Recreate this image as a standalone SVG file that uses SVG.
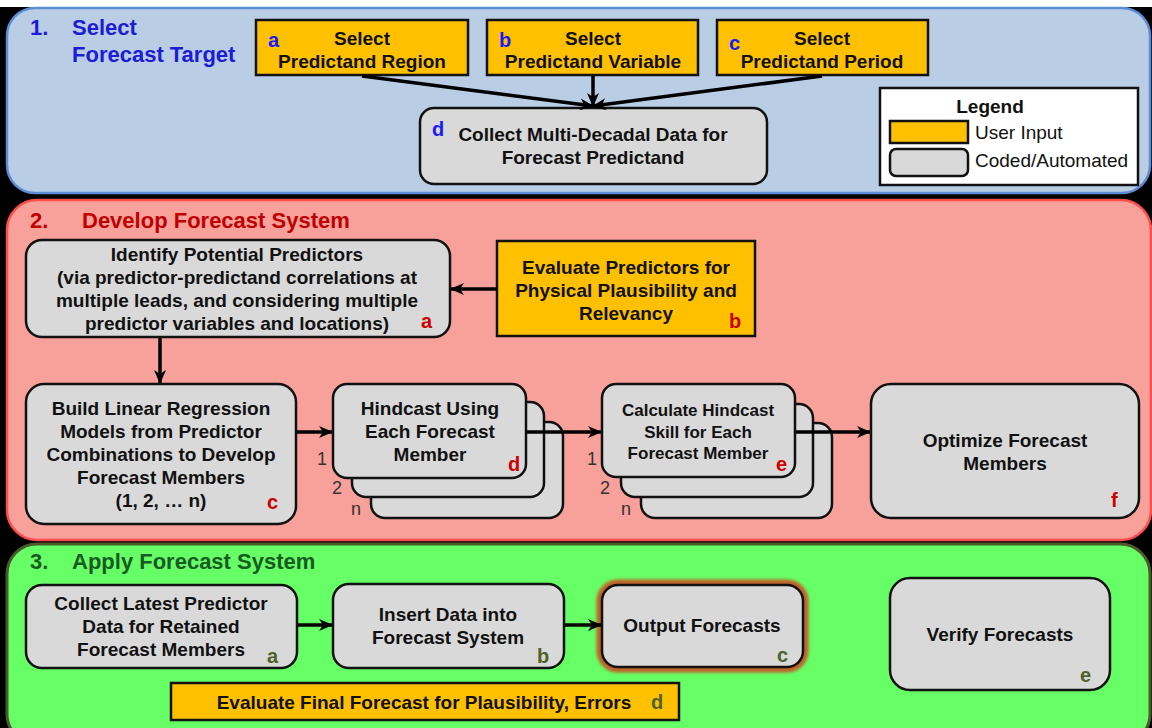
<svg xmlns="http://www.w3.org/2000/svg" width="1152" height="728" viewBox="0 0 1152 728">
<defs>
<style>
text{font-family:"Liberation Sans",Arial,sans-serif;}
.t{font-size:19px;font-weight:bold;fill:#111;text-anchor:middle;}
.ts{font-size:17px;font-weight:bold;fill:#111;text-anchor:middle;}
.lg{font-size:19px;fill:#111;}
.h1{font-size:22px;font-weight:bold;fill:#1c1cd4;}
.h2{font-size:22px;font-weight:bold;fill:#c00000;}
.h3{font-size:22px;font-weight:bold;fill:#175a23;}
.lb{font-size:20px;font-weight:bold;fill:#1a1aff;}
.lr{font-size:20px;font-weight:bold;fill:#cc0000;}
.lo{font-size:20px;font-weight:bold;fill:#4f6228;}
.num{font-size:18px;fill:#333;}
.grey{fill:#d9d9d9;stroke:#111;stroke-width:2.5;}
.user{fill:#ffc000;stroke:#111;stroke-width:2.5;}
.conn line{stroke:#000;stroke-width:3.5;marker-end:url(#ah);}
</style>
<marker id="ah" markerUnits="userSpaceOnUse" markerWidth="14" markerHeight="12" refX="13" refY="6" orient="auto">
<path d="M0,0 L14,6 L0,12 L4,6 Z" fill="#000"/>
</marker>
<filter id="glow" x="-20%" y="-20%" width="140%" height="140%">
<feGaussianBlur stdDeviation="1.8"/>
</filter>
</defs>
<rect x="0" y="0" width="1152" height="728" fill="#fff"/>
<rect x="0" y="7" width="1152" height="721" fill="#000"/>

<g id="panel1">
<rect x="7" y="8" width="1143" height="185" rx="28" fill="#b9cde5" stroke="#5b8ed6" stroke-width="2.5"/>
<text class="h1" x="30" y="35">1.</text>
<text class="h1" x="72" y="35">Select</text>
<text class="h1" x="72" y="62">Forecast Target</text>
</g>
<g id="panel2">
<rect x="7" y="200" width="1144" height="340" rx="30" fill="#f8a19b" stroke="#ff4d4d" stroke-width="2.5"/>
<text class="h2" x="30" y="228">2.</text>
<text class="h2" x="82" y="228">Develop Forecast System</text>
</g>
<g id="panel3">
<rect x="7" y="544" width="1143" height="200" rx="30" fill="#66ff66" stroke="#4a5a2a" stroke-width="3"/>
<text class="h3" x="30" y="569">3.</text>
<text class="h3" x="72" y="569">Apply Forecast System</text>
</g>

<g id="n1a">
<rect class="user" x="256" y="20" width="212" height="55"/>
<text class="t" x="362" y="45">Select</text>
<text class="t" x="362" y="68">Predictand Region</text>
<text class="lb" x="268" y="47">a</text>
</g>
<g id="n1b">
<rect class="user" x="487" y="20" width="211" height="55"/>
<text class="t" x="593" y="45">Select</text>
<text class="t" x="593" y="68">Predictand Variable</text>
<text class="lb" x="499" y="47">b</text>
</g>
<g id="n1c">
<rect class="user" x="717" y="20" width="211" height="55"/>
<text class="t" x="822" y="45">Select</text>
<text class="t" x="822" y="68">Predictand Period</text>
<text class="lb" x="729" y="50">c</text>
</g>
<g id="n1d">
<rect class="grey" x="420" y="108" width="347" height="76" rx="14"/>
<text class="t" x="593" y="141">Collect Multi-Decadal Data for</text>
<text class="t" x="593" y="164">Forecast Predictand</text>
<text class="lb" x="432" y="136">d</text>
</g>
<g id="legend">
<rect x="880" y="88" width="258" height="97" fill="#fff" stroke="#111" stroke-width="2.5"/>
<text class="t" x="990" y="113">Legend</text>
<rect class="user" x="890" y="121" width="78" height="22"/>
<text class="lg" x="975" y="139">User Input</text>
<rect class="grey" x="890" y="149" width="78" height="27" rx="6"/>
<text class="lg" x="975" y="167">Coded/Automated</text>
</g>

<g id="n2a">
<rect class="grey" x="26" y="240" width="424" height="97" rx="16"/>
<text class="t" x="237" y="261">Identify Potential Predictors</text>
<text class="t" x="237" y="284">(via predictor-predictand correlations at</text>
<text class="t" x="237" y="307">multiple leads, and considering multiple</text>
<text class="t" x="237" y="330">predictor variables and locations)</text>
<text class="lr" x="421" y="328">a</text>
</g>
<g id="n2b">
<rect class="user" x="497" y="241" width="258" height="95"/>
<text class="t" x="626" y="274">Evaluate Predictors for</text>
<text class="t" x="626" y="297">Physical Plausibility and</text>
<text class="t" x="626" y="320">Relevancy</text>
<text class="lr" x="729" y="328">b</text>
</g>
<g id="n2c">
<rect class="grey" x="26" y="384" width="270" height="140" rx="18"/>
<text class="t" x="161" y="415">Build Linear Regression</text>
<text class="t" x="161" y="438">Models from Predictor</text>
<text class="t" x="161" y="461">Combinations to Develop</text>
<text class="t" x="161" y="484">Forecast Members</text>
<text class="t" x="161" y="507">(1, 2, … n)</text>
<text class="lr" x="267" y="509">c</text>
</g>
<g id="n2d">
<rect class="grey" x="371" y="422" width="192" height="96" rx="14"/>
<rect class="grey" x="352" y="402" width="192" height="95" rx="14"/>
<rect class="grey" x="333" y="384" width="193" height="94" rx="14"/>
<text class="t" x="430" y="415">Hindcast Using</text>
<text class="t" x="430" y="438">Each Forecast</text>
<text class="t" x="430" y="461">Member</text>
<text class="lr" x="508" y="471">d</text>
<text class="num" x="317" y="465">1</text>
<text class="num" x="332" y="494">2</text>
<text class="num" x="351" y="515">n</text>
</g>
<g id="n2e">
<rect class="grey" x="641" y="423" width="191" height="95" rx="14"/>
<rect class="grey" x="621" y="404" width="192" height="93" rx="14"/>
<rect class="grey" x="602" y="384" width="193" height="93" rx="14"/>
<text class="ts" x="698" y="416">Calculate Hindcast</text>
<text class="ts" x="698" y="438">Skill for Each</text>
<text class="ts" x="698" y="459">Forecast Member</text>
<text class="lr" x="776" y="471">e</text>
<text class="num" x="587" y="465">1</text>
<text class="num" x="600" y="494">2</text>
<text class="num" x="621" y="515">n</text>
</g>
<g id="n2f">
<rect class="grey" x="871" y="384" width="268" height="134" rx="20"/>
<text class="t" x="1005" y="447">Optimize Forecast</text>
<text class="t" x="1005" y="470">Members</text>
<text class="lr" x="1111" y="507">f</text>
</g>

<g id="n3a">
<rect class="grey" x="26" y="585" width="271" height="83" rx="16"/>
<text class="t" x="161" y="610">Collect Latest Predictor</text>
<text class="t" x="161" y="633">Data for Retained</text>
<text class="t" x="161" y="656">Forecast Members</text>
<text class="lo" x="267" y="663">a</text>
</g>
<g id="n3b">
<rect class="grey" x="333" y="584" width="231" height="84" rx="16"/>
<text class="t" x="448" y="621">Insert Data into</text>
<text class="t" x="448" y="644">Forecast System</text>
<text class="lo" x="537" y="663">b</text>
</g>
<g id="n3c">
<rect x="602" y="585" width="201" height="82" rx="16" fill="none" stroke="#c0602a" stroke-width="11" filter="url(#glow)"/>
<rect class="grey" x="602" y="585" width="201" height="82" rx="16"/>
<text class="t" x="702" y="632">Output Forecasts</text>
<text class="lo" x="777" y="662">c</text>
</g>
<g id="n3d">
<rect class="user" x="171" y="683" width="508" height="37"/>
<text class="t" x="424" y="709">Evaluate Final Forecast for Plausibility, Errors</text>
<text class="lo" x="651" y="709">d</text>
</g>
<g id="n3e">
<rect class="grey" x="890" y="578" width="220" height="112" rx="20"/>
<text class="t" x="1000" y="641">Verify Forecasts</text>
<text class="lo" x="1080" y="682">e</text>
</g>

<g id="connectors" class="conn">
<line x1="362" y1="76" x2="593" y2="106"/>
<line x1="593" y1="76" x2="593" y2="106"/>
<line x1="822" y1="76" x2="593" y2="106"/>
<line x1="497" y1="289" x2="451" y2="289"/>
<line x1="160" y1="338" x2="160" y2="383"/>
<line x1="297" y1="432" x2="332" y2="432"/>
<line x1="526" y1="432" x2="601" y2="432"/>
<line x1="796" y1="432" x2="870" y2="432"/>
<line x1="298" y1="625" x2="332" y2="625"/>
<line x1="565" y1="625" x2="601" y2="625"/>
</g>
</svg>
